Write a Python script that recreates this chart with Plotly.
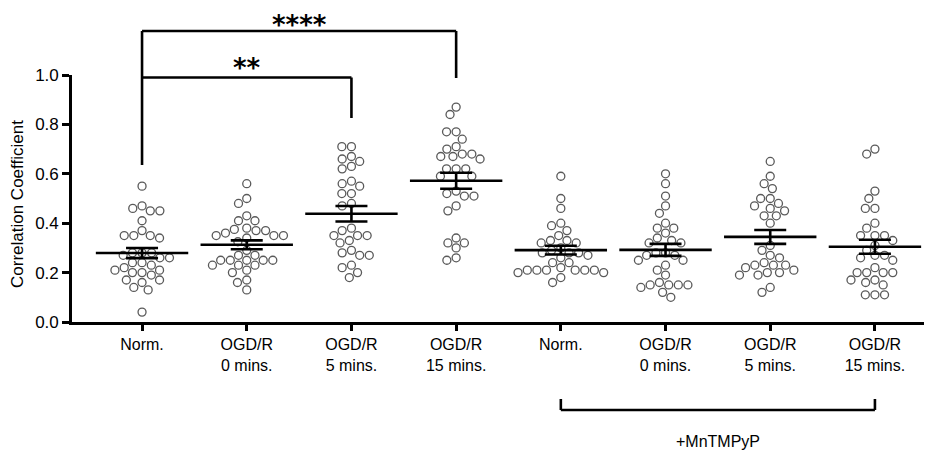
import numpy as np
import plotly.graph_objects as go

# ---------------- data ----------------
tick_labels = ["Norm.", "OGD/R<br>0 mins.", "OGD/R<br>5 mins.", "OGD/R<br>15 mins.",
               "Norm.", "OGD/R<br>0 mins.", "OGD/R<br>5 mins.", "OGD/R<br>15 mins."]

norm = [0.55, 0.47, 0.46, 0.45, 0.45, 0.41, 0.37, 0.35, 0.35, 0.35, 0.34, 0.28, 0.28, 0.28,
        0.27, 0.26, 0.26, 0.24, 0.24, 0.23, 0.22, 0.21, 0.21, 0.20, 0.20, 0.19, 0.17, 0.17,
        0.16, 0.14, 0.13, 0.04]
ogd0 = [0.56, 0.50, 0.48, 0.43, 0.41, 0.41, 0.38, 0.37, 0.37, 0.375, 0.36, 0.35, 0.35, 0.35,
        0.34, 0.325, 0.29, 0.27, 0.27, 0.25, 0.25, 0.25, 0.25, 0.25, 0.23, 0.23, 0.23, 0.21,
        0.20, 0.17, 0.16, 0.13]
ogd5 = [0.71, 0.71, 0.67, 0.66, 0.65, 0.63, 0.62, 0.57, 0.56, 0.55, 0.52, 0.52, 0.48, 0.47,
        0.38, 0.37, 0.35, 0.35, 0.35, 0.33, 0.32, 0.29, 0.28, 0.27, 0.27, 0.23, 0.22, 0.20, 0.18]
ogd15 = [0.87, 0.84, 0.77, 0.77, 0.74, 0.71, 0.70, 0.68, 0.68, 0.67, 0.67, 0.66, 0.62, 0.62,
         0.62, 0.59, 0.59, 0.52, 0.51, 0.51, 0.53, 0.47, 0.45, 0.34, 0.32, 0.32, 0.30, 0.26, 0.25]
mn_norm = [0.59, 0.50, 0.46, 0.40, 0.39, 0.37, 0.35, 0.33, 0.33, 0.32, 0.32, 0.30, 0.29, 0.28,
           0.28, 0.28, 0.27, 0.26, 0.24, 0.24, 0.22, 0.21, 0.21, 0.21, 0.21, 0.21, 0.21, 0.20,
           0.20, 0.18, 0.16]
mn_ogd0 = [0.60, 0.56, 0.51, 0.47, 0.44, 0.40, 0.38, 0.38, 0.36, 0.34, 0.33, 0.32, 0.32, 0.27,
           0.28, 0.28, 0.25, 0.25, 0.27, 0.23, 0.21, 0.19, 0.15, 0.16, 0.14, 0.15, 0.15, 0.15,
           0.12, 0.10]
mn_ogd5 = [0.65, 0.59, 0.56, 0.54, 0.50, 0.50, 0.48, 0.47, 0.45, 0.46, 0.43, 0.43, 0.40, 0.31,
           0.29, 0.27, 0.26, 0.24, 0.23, 0.23, 0.23, 0.22, 0.21, 0.20, 0.20, 0.19, 0.19, 0.14, 0.12]
mn_ogd15 = [0.70, 0.68, 0.53, 0.50, 0.46, 0.46, 0.40, 0.38, 0.35, 0.35, 0.35, 0.33, 0.31, 0.29,
            0.27, 0.27, 0.26, 0.25, 0.22, 0.20, 0.20, 0.20, 0.20, 0.17, 0.17, 0.16, 0.15, 0.11,
            0.11, 0.11]

groups = [norm, ogd0, ogd5, ogd15, mn_norm, mn_ogd0, mn_ogd5, mn_ogd15]

y_ticks = [0.0, 0.2, 0.4, 0.6, 0.8, 1.0]

# significance comparisons: (group a, group b, label)
comparisons = [(0, 2, "**"), (0, 3, "****")]
treatment_label = "+MnTMPyP"
treatment_span = (4, 7)

# ---------------- layout geometry ----------------
PAGE_W, PAGE_H = 932, 460
BODY = 8                      # default html body margin
W, H = PAGE_W - BODY, PAGE_H - BODY
# plot area in page pixels
PL, PR, PT, PB = 72, 930, 75, 322
ML, MR, MT, MB = PL - BODY, PAGE_W - PR, PT - BODY, PAGE_H - PB
plot_w = PR - PL
plot_h = PB - PT
X_RANGE = [-0.669, 7.526]
Y_RANGE = [0.0, 1.0]
PX_X = plot_w / (X_RANGE[1] - X_RANGE[0])
PX_Y = plot_h / (Y_RANGE[1] - Y_RANGE[0])


def py2paper(py):
    """page pixel row -> paper y"""
    return (PB - py) / plot_h


def px2paper(px):
    return (px - PL) / plot_w


def swarm(vals, D=9.6):
    vals = np.asarray(vals, float)
    order = np.argsort(-vals, kind="stable")
    placed = []
    xs = np.zeros(len(vals))
    for i in order:
        y = vals[i] * PX_Y
        cands = [0.0]
        for (px, pyy) in placed:
            dy = abs(pyy - y)
            if dy < D:
                dx = np.sqrt(D * D - dy * dy)
                cands += [px + dx, px - dx]
        cands.sort(key=lambda c: (round(abs(c), 6), c))
        for c in cands:
            if all((c - px) ** 2 + (y - pyy) ** 2 >= D * D - 1e-6 for px, pyy in placed):
                xs[i] = c
                placed.append((c, y))
                break
    return xs / PX_X


fig = go.Figure()

for gi, vals in enumerate(groups):
    offs = swarm(vals)
    fig.add_trace(go.Scatter(
        x=gi + offs, y=vals, mode="markers",
        marker=dict(symbol="circle-open", size=8, color="#5a5a5a",
                    line=dict(width=1.3, color="#5a5a5a")),
        showlegend=False, hoverinfo="y", cliponaxis=False))

means = [float(np.mean(v)) for v in groups]
sems = [float(np.std(v, ddof=1) / np.sqrt(len(v))) for v in groups]
fig.add_trace(go.Scatter(
    x=list(range(len(groups))), y=means, mode="markers",
    marker=dict(symbol="line-ew", size=66, color="black",
                line=dict(width=2.6, color="black")),
    error_y=dict(type="data", array=sems, visible=True, color="black",
                 thickness=2.6, width=16),
    showlegend=False, hoverinfo="y", cliponaxis=False))

LW = 2.6
line = dict(color="black", width=LW)
shapes = []
top_y = py2paper(31)
low_y = py2paper(77.5)
leftleg_bottom = py2paper(165)
leg_bottom = {2: py2paper(118), 3: py2paper(78)}
bracket_y = {2: low_y, 3: top_y}
# top edge of the star label boxes (page pixels)
star_top = {2: 52, 3: BODY + 0.5}
for a, b, lab in comparisons:
    yb = bracket_y[b]
    shapes.append(dict(type="line", xref="x", yref="paper", x0=a, x1=b, y0=yb, y1=yb, line=line))
    shapes.append(dict(type="line", xref="x", yref="paper", x0=b, x1=b, y0=leg_bottom[b], y1=yb, line=line))
shapes.append(dict(type="line", xref="x", yref="paper", x0=0, x1=0,
                   y0=leftleg_bottom, y1=top_y, line=line))
ta, tb = treatment_span
by = py2paper(410)
bt = py2paper(399)
shapes.append(dict(type="line", xref="x", yref="paper", x0=ta, x1=tb, y0=by, y1=by, line=line))
shapes.append(dict(type="line", xref="x", yref="paper", x0=ta, x1=ta, y0=by, y1=bt, line=line))
shapes.append(dict(type="line", xref="x", yref="paper", x0=tb, x1=tb, y0=by, y1=bt, line=line))

annotations = []
for a, b, lab in comparisons:
    annotations.append(dict(x=(a + b) / 2, y=py2paper(star_top[b]), xref="x", yref="paper",
                            text=f"<b>{lab}</b>", showarrow=False,
                            xanchor="center", yanchor="top", borderpad=0,
                            font=dict(family="DejaVu Sans", size=26, color="black")))
annotations.append(dict(x=(ta + tb) / 2, y=py2paper(441), xref="x", yref="paper",
                        text=treatment_label, showarrow=False, xanchor="center", yanchor="middle",
                        font=dict(family="Arial, Liberation Sans", size=16, color="black")))
annotations.append(dict(x=px2paper(18), y=py2paper(204), xref="paper", yref="paper",
                        text="Correlation Coefficient", showarrow=False, textangle=-90,
                        xanchor="center", yanchor="middle",
                        font=dict(family="Arial, Liberation Sans", size=17, color="black")))

fig.update_layout(
    width=W, height=H,
    margin=dict(l=ML, r=MR, t=MT, b=MB, autoexpand=False),
    paper_bgcolor="white", plot_bgcolor="white",
    shapes=shapes, annotations=annotations,
    xaxis=dict(range=X_RANGE, tickmode="array", tickvals=list(range(len(groups))),
               ticktext=tick_labels, ticks="outside", ticklen=6, tickwidth=LW,
               tickcolor="black", showline=True, linewidth=LW, linecolor="black",
               showgrid=False, zeroline=False, automargin=False,
               tickfont=dict(family="Arial, Liberation Sans", size=16, color="black")),
    yaxis=dict(range=Y_RANGE, tickmode="array", tickvals=y_ticks,
               ticktext=[f"{v:.1f}" for v in y_ticks], ticks="outside", ticklen=7,
               tickwidth=LW, tickcolor="black", showline=True, linewidth=LW,
               linecolor="black", showgrid=False, zeroline=False, automargin=False,
               tickfont=dict(family="Arial, Liberation Sans", size=17, color="black")),
)

fig.write_html("out.html")
